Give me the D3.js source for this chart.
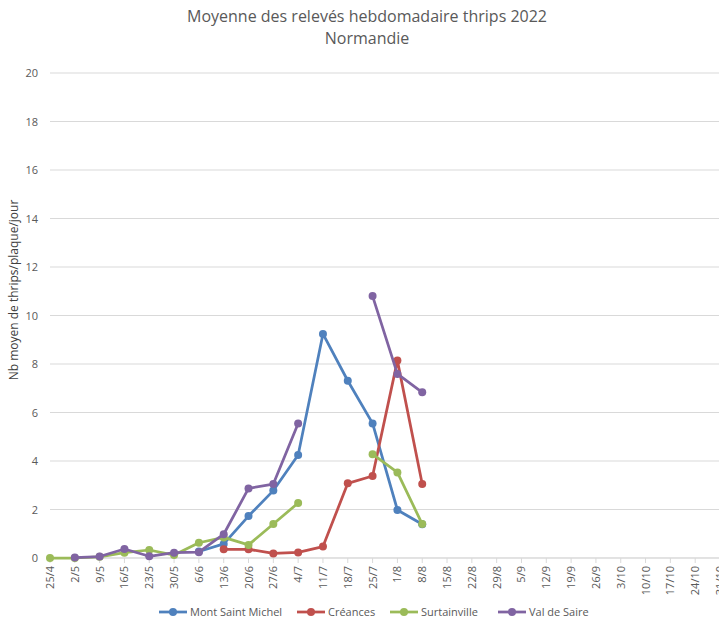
<!DOCTYPE html>
<html><head><meta charset="utf-8">
<script src="https://cdn.jsdelivr.net/npm/d3@7"></script>
<style>body{margin:0;background:#fff;}svg{display:block;font-family:"Open Sans",Calibri,sans-serif;}</style>
</head><body>
<script>
const categories = ["25/4","2/5","9/5","16/5","23/5","30/5","6/6","13/6","20/6","27/6","4/7","11/7","18/7","25/7","1/8","8/8","15/8","22/8","29/8","5/9","12/9","19/9","26/9","3/10","10/10","17/10","24/10","31/10"];
const montSaintMichel = [null,null,null,null,null,null,0.27,0.58,1.73,2.78,4.25,9.24,7.31,5.55,1.98,1.39];
const creances = [null,null,null,null,null,null,null,0.36,0.36,0.19,0.23,0.47,3.08,3.38,8.14,3.05];
const surtainville = [0,0,0.05,0.22,0.33,0.12,0.63,0.85,0.54,1.4,2.27,null,null,4.28,3.53,1.4];
const valDeSaire = [null,0.02,0.06,0.37,0.07,0.22,0.24,0.98,2.87,3.05,5.55,null,null,10.8,7.59,6.83];
const seriesNames = ["Mont Saint Michel","Créances","Surtainville","Val de Saire"];
const seriesColors = ["#4F81BD","#C0504D","#9BBB59","#8064A2"];
const yTicks = [0,2,4,6,8,10,12,14,16,18,20];
const title1 = "Moyenne des relevés hebdomadaire thrips 2022";
const title2 = "Normandie";
const yLabel = "Nb moyen de thrips/plaque/jour";

const W=719,H=623;
const svg=d3.select("body").append("svg").attr("width",W).attr("height",H);
const x=d3.scalePoint().domain(categories).range([50,720]);
const y=d3.scaleLinear().domain([0,20]).range([558,73]);

svg.append("text").attr("x",367).attr("y",22).attr("text-anchor","middle").attr("font-size",16).attr("fill","#595959").text(title1);
svg.append("text").attr("x",367).attr("y",44).attr("text-anchor","middle").attr("font-size",16).attr("fill","#595959").text(title2);

// gridlines
svg.append("g").selectAll("line").data(yTicks).join("line")
  .attr("x1",50).attr("x2",W).attr("y1",d=>y(d)).attr("y2",d=>y(d))
  .attr("stroke","#d9d9d9").attr("stroke-width",1);

// y labels
svg.append("g").selectAll("text").data(yTicks).join("text")
  .attr("x",38).attr("y",d=>y(d)+4).attr("text-anchor","end").attr("font-size",11).attr("fill","#595959").text(d=>d);

svg.append("text").attr("transform","translate(18,"+290+") rotate(-90)").attr("text-anchor","middle")
  .attr("font-size",12).attr("fill","#404040").text(yLabel);

// x axis
const xg=svg.append("g").attr("transform","translate(0,558)");
xg.append("line").attr("x1",50).attr("x2",W).attr("stroke","#d9d9d9");
xg.selectAll("line.t").data(categories).join("line").attr("class","t")
  .attr("x1",d=>x(d)).attr("x2",d=>x(d)).attr("y1",0).attr("y2",5).attr("stroke","#d9d9d9");
xg.selectAll("text").data(categories).join("text")
  .attr("transform",d=>"translate("+(x(d)+4)+",8) rotate(-90)")
  .attr("text-anchor","end").attr("font-size",11).attr("fill","#595959").text(d=>d);

const all=[montSaintMichel,creances,surtainville,valDeSaire];
const line=d3.line().defined(d=>d.v!=null).x(d=>x(d.c)).y(d=>y(d.v));
all.forEach((s,i)=>{
  const pts=s.map((v,j)=>({c:categories[j],v:v}));
  const g=svg.append("g");
  g.append("path").attr("d",line(pts)).attr("fill","none").attr("stroke",seriesColors[i]).attr("stroke-width",2.75).attr("stroke-linejoin","round").attr("stroke-linecap","round");
  g.selectAll("circle").data(pts.filter(d=>d.v!=null)).join("circle")
    .attr("cx",d=>x(d.c)).attr("cy",d=>y(d.v)).attr("r",4).attr("fill",seriesColors[i]);
});

// legend
const legX=[159,297,390,498];
const lg=svg.append("g");
seriesNames.forEach((n,i)=>{
  const g=lg.append("g").attr("transform","translate("+legX[i]+",612)");
  g.append("line").attr("x1",0).attr("x2",28).attr("stroke",seriesColors[i]).attr("stroke-width",2.75);
  g.append("circle").attr("cx",14).attr("r",4).attr("fill",seriesColors[i]);
  g.append("text").attr("x",31).attr("y",4).attr("font-size",11).attr("fill","#595959").text(n);
});
</script>
</body></html>
